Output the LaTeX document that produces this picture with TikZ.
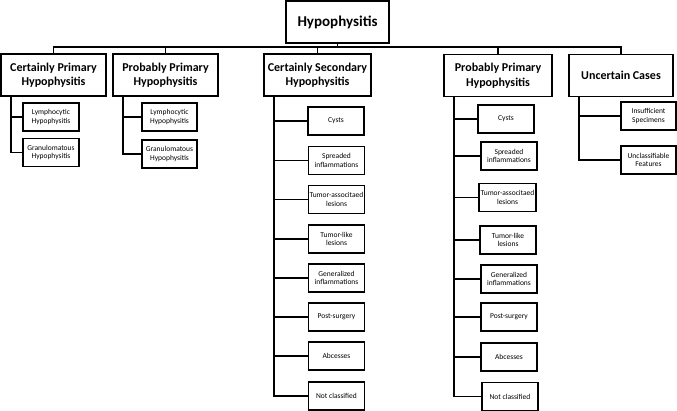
\documentclass[tikz,border=0pt]{standalone}
\usepackage{fontspec}
\setmainfont{Carlito}
\begin{document}
\begin{tikzpicture}[x=1pt,y=-1pt,
  boxbase/.style={draw=black,line width=1.6pt,fill=white,inner sep=1pt,align=center,anchor=center},
  rootbox/.style={boxbase,minimum width=103pt,minimum height=42pt,font=\fontsize{15}{18}\selectfont\bfseries},
  catbox/.style={boxbase,minimum height=42pt,font=\fontsize{12}{14.5}\selectfont\bfseries},
  leafbox/.style={boxbase,minimum height=28pt,font=\fontsize{7.5}{8.6}\selectfont},
  conn/.style={line width=1.6pt,line cap=rect}]
\useasboundingbox (0,0) rectangle (677,411);
% root
\node[rootbox] (root) at (337.5,22) {Hypophysitis};
% categories
\node[catbox,minimum width=105pt] (cp)  at (53.5,75)  {Certainly Primary\\Hypophysitis};
\node[catbox,minimum width=105pt] (pp1) at (165.5,75) {Probably Primary\\Hypophysitis};
\node[catbox,minimum width=107pt] (cs)  at (317.5,75) {Certainly Secondary\\Hypophysitis};
\node[catbox,minimum width=108pt] (pp2) at (498,75.5) {Probably Primary\\Hypophysitis};
\node[catbox,minimum width=104pt] (uc)  at (621,75.5) {Uncertain Cases};
% bus
\coordinate (bus) at (0,47);
\draw[conn] (root.south) -- (root.south |- bus);
\draw[conn] (cp.north) -- (cp.north |- bus) -- (uc.north |- bus) -- (uc.north);
\draw[conn] (pp1.north) -- (pp1.north |- bus);
\draw[conn] (cs.north) -- (cs.north |- bus);
\draw[conn] (pp2.north) -- (pp2.north |- bus);
% leaves: certainly primary
\node[leafbox,minimum width=56pt] (cp1) at (51,117) {Lymphocytic\\Hypophysitis};
\node[leafbox,minimum width=56pt] (cp2) at (51,152.5) {Granulomatous\\Hypophysitis};
% probably primary 1
\node[leafbox,minimum width=55pt] (pa1) at (169.5,117) {Lymphocytic\\Hypophysitis};
\node[leafbox,minimum width=55pt] (pa2) at (169.5,154) {Granulomatous\\Hypophysitis};
% certainly secondary
\node[leafbox,minimum width=56pt] (cs1) at (336,121) {Cysts};
\node[leafbox,minimum width=56pt] (cs2) at (336.5,160.5) {Spreaded\\inflammations};
\node[leafbox,minimum width=56pt] (cs3) at (336.5,199.5) {Tumor-associtaed\\lesions};
\node[leafbox,minimum width=56pt] (cs4) at (336.5,239) {Tumor-like\\lesions};
\node[leafbox,minimum width=56pt] (cs5) at (336.5,278) {Generalized\\inflammations};
\node[leafbox,minimum width=56pt] (cs6) at (336.5,317) {Post-surgery};
\node[leafbox,minimum width=56pt] (cs7) at (336.5,356) {Abcesses};
\node[leafbox,minimum width=56pt] (cs8) at (336.5,396) {Not classified};
% probably primary 2
\node[leafbox,minimum width=56pt] (pb1) at (506,119) {Cysts};
\node[leafbox,minimum width=56pt] (pb2) at (509,156) {Spreaded\\inflammations};
\node[leafbox,minimum width=57pt] (pb3) at (507.5,197.5) {Tumor-associtaed\\lesions};
\node[leafbox,minimum width=56pt] (pb4) at (508,240) {Tumor-like\\lesions};
\node[leafbox,minimum width=56pt] (pb5) at (509,279) {Generalized\\inflammations};
\node[leafbox,minimum width=56pt] (pb6) at (509,317) {Post-surgery};
\node[leafbox,minimum width=56pt] (pb7) at (509,357) {Abcesses};
\node[leafbox,minimum width=56pt] (pb8) at (510,396.5) {Not classified};
% uncertain
\node[leafbox,minimum width=55pt] (uc1) at (648.5,116) {Insufficient\\Specimens};
\node[leafbox,minimum width=55pt] (uc2) at (648.5,160) {Unclassifiable\\Features};
% connectors
\foreach \p/\kids in {cp/{cp1,cp2}, pp1/{pa1,pa2}, cs/{cs1,cs2,cs3,cs4,cs5,cs6,cs7,cs8}, pp2/{pb1,pb2,pb3,pb4,pb5,pb6,pb7,pb8}, uc/{uc1,uc2}}{
  \foreach \k in \kids {
    \draw[conn] ([xshift=11pt]\p.south west) |- (\k.west);
  }
}
\end{tikzpicture}
\end{document}
